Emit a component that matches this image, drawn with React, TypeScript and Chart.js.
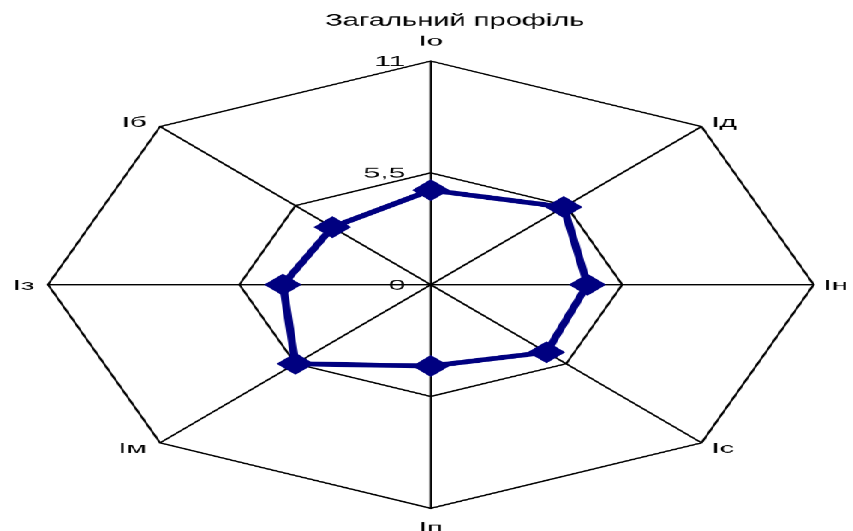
import React, { useEffect, useRef } from 'react';
import { Chart, registerables } from 'chart.js';

Chart.register(...registerables);

// ---- data ----
const TITLE = 'Загальний профіль';
const categories = ['Іо', 'Ід', 'Ін', 'Іс', 'Іп', 'Ім', 'Із', 'Іб'];
const profileValues = [4.65, 5.4, 4.5, 4.7, 4.0, 5.5, 4.25, 4.0];
const SCALE_MIN = 0;
const SCALE_MAX = 11;
const SCALE_STEP = 5.5;

// ---- layout / style ----
const PAGE_W = 853;
const PAGE_H = 531;
const LOGICAL_W = 498;
const STRETCH = PAGE_W / LOGICAL_W;
const NAVY = '#000080';
const FONT_FAMILY = '"Liberation Sans", Arial, Helvetica, sans-serif';
const LABEL_SIZE = 14.5;
const LABEL_WIDEN = 1.18;
const TICK_WIDEN = 1.23;
const TITLE_SIZE = 17.5;

const fmt = (v: number) => String(v).replace('.', ',');

function drawText(
  ctx: CanvasRenderingContext2D,
  text: string,
  x: number,
  y: number,
  align: CanvasTextAlign,
  size: number,
  widen: number
) {
  ctx.save();
  ctx.font = `${size}px ${FONT_FAMILY}`;
  ctx.fillStyle = '#000';
  ctx.textAlign = align;
  ctx.textBaseline = 'alphabetic';
  ctx.translate(x, y);
  ctx.scale(widen, 1);
  ctx.fillText(text, 0, 0);
  ctx.restore();
}

const profilePlugin = {
  id: 'profileText',
  afterLayout(chart: any) {
    const s = chart.scales.r;
    const ca = chart.chartArea;
    s.xCenter = (ca.left + ca.right) / 2;
    s.yCenter = (ca.top + ca.bottom) / 2;
    s.drawingArea = (ca.bottom - ca.top) / 2;
  },
  afterDraw(chart: any) {
    const ctx: CanvasRenderingContext2D = chart.ctx;
    const s = chart.scales.r;
    const cx = s.xCenter;
    const cy = s.yCenter;

    // title
    drawText(ctx, TITLE, cx + 14, 25.5, 'center', TITLE_SIZE, 0.97);

    // tick labels
    s.ticks.forEach((t: any) => {
      const off = s.getDistanceFromCenterForValue(t.value);
      drawText(ctx, fmt(t.value), cx - 14.7, cy - off + 4.8, 'right', LABEL_SIZE, TICK_WIDEN);
    });

    // point labels
    const outer = s.getDistanceFromCenterForValue(s.max);
    categories.forEach((lab, i) => {
      const p = s.getPointPosition(i, outer);
      const dx = p.x - cx;
      const dy = p.y - cy;
      const ux = Math.abs(dx) < 1 ? 0 : Math.sign(dx);
      const uy = Math.abs(dy) < 1 ? 0 : Math.sign(dy);
      if (ux === 0) {
        const y = uy < 0 ? p.y - 15.5 : p.y + 24;
        drawText(ctx, lab, p.x, y, 'center', LABEL_SIZE, LABEL_WIDEN);
      } else {
        const x = p.x + (ux > 0 ? 5.8 : -7.9);
        const y = p.y + uy * 5 + 5.2;
        drawText(ctx, lab, x, y, ux > 0 ? 'left' : 'right', LABEL_SIZE, LABEL_WIDEN);
      }
    });
  },
};

export default function App() {
  const ref = useRef<HTMLCanvasElement | null>(null);

  useEffect(() => {
    if (!ref.current) return;
    const chart = new Chart(ref.current, {
      type: 'radar',
      data: {
        labels: categories,
        datasets: [
          {
            label: TITLE,
            data: profileValues,
            borderColor: NAVY,
            backgroundColor: 'transparent',
            borderWidth: 4.8,
            fill: false,
            tension: 0,
            pointStyle: 'rectRot',
            pointRadius: 10,
            pointHoverRadius: 10,
            pointBorderWidth: 1.4,
            pointBackgroundColor: NAVY,
            pointBorderColor: NAVY,
          },
        ],
      },
      options: {
        animation: false,
        responsive: true,
        maintainAspectRatio: false,
        devicePixelRatio: STRETCH,
        events: [],
        layout: { padding: { top: 61, bottom: 23, left: 28, right: 23 } },
        plugins: {
          legend: { display: false },
          title: { display: false },
          tooltip: { enabled: false },
        },
        scales: {
          r: {
            min: SCALE_MIN,
            max: SCALE_MAX,
            ticks: { stepSize: SCALE_STEP, display: false, callback: (v: any) => fmt(Number(v)) },
            grid: { color: '#000', lineWidth: 1.4, circular: false },
            angleLines: { display: true, color: '#000', lineWidth: 1.4 },
            pointLabels: { display: false },
          },
        },
      },
      plugins: [profilePlugin],
    } as any);
    return () => chart.destroy();
  }, []);

  return (
    <div
      style={{
        position: 'absolute',
        left: 0,
        top: 0,
        width: LOGICAL_W,
        height: PAGE_H,
        transform: `scaleX(${STRETCH})`,
        transformOrigin: '0 0',
        background: '#fff',
      }}
    >
      <canvas ref={ref} />
    </div>
  );
}
